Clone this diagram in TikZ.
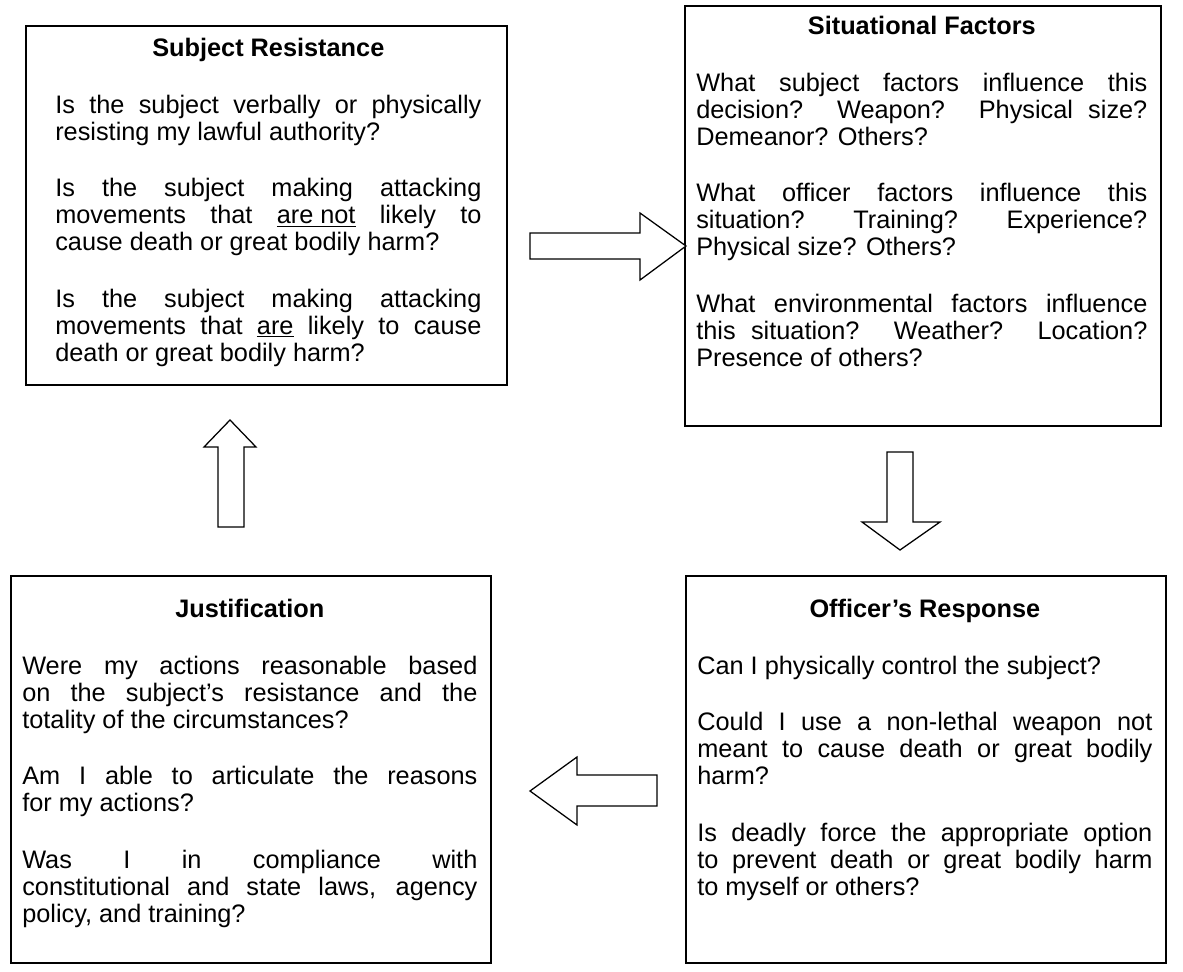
\documentclass[tikz,border=0pt]{standalone}
\usepackage{fontspec}
\setmainfont{Liberation Sans}
\usepackage{tikz}
\usetikzlibrary{positioning}

\newcommand{\boxtitle}[1]{{\centering\bfseries #1\par}\setlength{\parskip}{21pt}}
\newcommand{\stress}[1]{\underline{#1}}

\tikzset{
  factorbox/.style={draw, line width=1.4pt, anchor=north west, inner sep=0pt},
  boxtext/.style={anchor=north west, inner sep=0pt, align=justify,
    font=\fontsize{18}{19.2}\selectfont,
    execute at begin node={\setlength{\parskip}{0pt}\setlength{\parindent}{0pt}%
      \tolerance=10000\hyphenpenalty=10000\exhyphenpenalty=10000}},
  blockarrow/.style={draw, line width=0.9pt, line join=miter, fill=white}
}

\begin{document}
\begin{tikzpicture}[x=0.025cm, y=-0.025cm]
    \useasboundingbox (0,0) rectangle (1183,972);

    % The four boxes
    \node[factorbox, minimum width=12.025cm, minimum height=8.975cm] (resist) at (25,25) {};
    \node[factorbox, minimum width=11.9cm, minimum height=10.5cm] (factors) at (684,5) {};
    \node[factorbox, minimum width=12cm, minimum height=9.675cm] (justify) at (10,575) {};
    \node[factorbox, minimum width=12cm, minimum height=9.675cm] (response) at (685,575) {};

    % Subject resistance
    \node[boxtext, text width=10.65cm] (resist-text) at ([shift={(30,13)}]resist.north west) {%
      \boxtitle{Subject Resistance}
      Is the subject verbally or physically \linebreak resisting my lawful authority?\par
      Is the subject making attacking \linebreak movements that \stress{are not} likely to \linebreak cause death or great bodily harm?\par
      Is the subject making attacking \linebreak movements that \stress{are} likely to cause \linebreak death or great bodily harm?};

    % Situational factors
    \node[boxtext, text width=11.275cm] (factors-text) at ([shift={(12,11)}]factors.north west) {%
      \boxtitle{Situational Factors}
      What subject factors influence this \linebreak decision? Weapon? Physical size? \linebreak Demeanor? Others?\par
      What officer factors influence this \linebreak situation? Training? Experience? \linebreak Physical size? Others?\par
      What environmental factors influence \linebreak this situation? Weather? Location? \linebreak Presence of others?};

    % Justification
    \node[boxtext, text width=11.375cm] (justify-text) at ([shift={(12,24)}]justify.north west) {%
      \boxtitle{Justification}
      Were my actions reasonable based \linebreak on the subject’s resistance and the \linebreak totality of the circumstances?\par
      Am I able to articulate the reasons \linebreak for my actions?\par
      Was I in compliance with \linebreak constitutional and state laws, agency \linebreak policy, and training?};

    % Officer's response
    \node[boxtext, text width=11.375cm] (response-text) at ([shift={(12,24)}]response.north west) {%
      \boxtitle{Officer’s Response}
      Can I physically control the subject?\par
      Could I use a non-lethal weapon not \linebreak meant to cause death or great bodily \linebreak harm?\par
      Is deadly force the appropriate option \linebreak to prevent death or great bodily harm \linebreak to myself or others?};

    % Block arrows round the cycle
    \draw[blockarrow] (530,233) -- (640,233) -- (640,213) -- (686,246)
        -- (640,280) -- (640,259) -- (530,259) -- cycle;
    \draw[blockarrow] (887,452) -- (913,452) -- (913,522) -- (940,522)
        -- (900,550) -- (862,522) -- (887,522) -- cycle;
    \draw[blockarrow] (657,775) -- (577,775) -- (577,757) -- (530,791)
        -- (577,825) -- (577,806) -- (657,806) -- cycle;
    \draw[blockarrow] (218,527) -- (218,447) -- (204,447) -- (230,420)
        -- (256,447) -- (244,447) -- (244,527) -- cycle;
\end{tikzpicture}
\end{document}
